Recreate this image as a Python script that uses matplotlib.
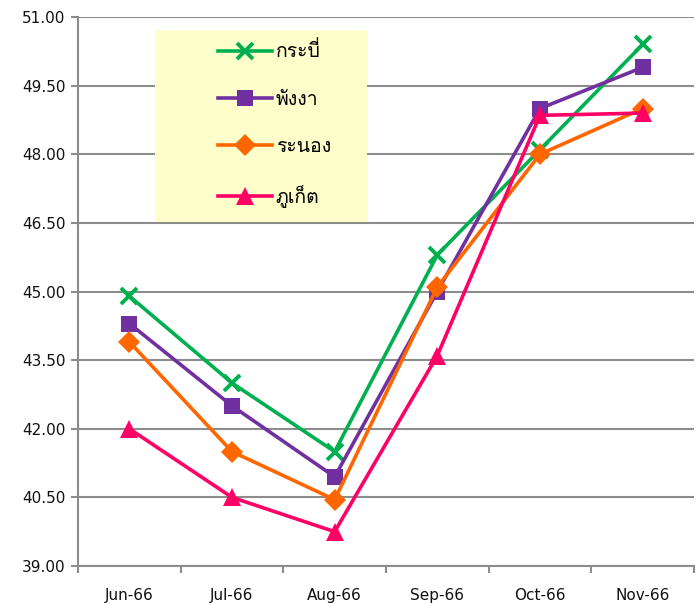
import numpy as np
import matplotlib
matplotlib.use("Agg")
import matplotlib.pyplot as plt
from matplotlib import font_manager
from matplotlib.ft2font import FT2Font
from matplotlib.patches import Rectangle

months = ["Jun-66", "Jul-66", "Aug-66", "Sep-66", "Oct-66", "Nov-66"]
krabi = [44.9, 43.0, 41.5, 45.8, 48.1, 50.4]
phangnga = [44.3, 42.5, 40.95, 45.0, 49.0, 49.9]
ranong = [43.9, 41.5, 40.45, 45.1, 48.0, 49.0]
phuket = [42.0, 40.5, 39.75, 43.6, 48.85, 48.9]
names = ["กระบี่", "พังงา", "ระนอง", "ภูเก็ต"]
y_ticks = [39.0, 40.5, 42.0, 43.5, 45.0, 46.5, 48.0, 49.5, 51.0]

# find a font with Thai glyphs
thai_family = None
preferred = []
for f in font_manager.fontManager.ttflist:
    try:
        ft = FT2Font(f.fname)
        if 0x0E01 in ft.get_charmap():
            preferred.append(f.name)
    except Exception:
        pass
for cand in preferred:
    if "Thai" in cand or "Loma" in cand or "Tahoma" in cand:
        thai_family = cand
        break
if thai_family is None and preferred:
    thai_family = preferred[0]
thai_fams = ([thai_family] if thai_family else []) + ["DejaVu Sans"]

plt.rcParams['font.family'] = ['DejaVu Sans']

fig = plt.figure(figsize=(6.97, 6.03), dpi=100)
ax = fig.add_axes([78/697, 1-566/603, 616/697, 549/603])

x = np.arange(len(months))
series = [
    (krabi, "#00B050", "x", 12),
    (phangnga, "#7030A0", "s", 12),
    (ranong, "#FF6600", "D", 11),
    (phuket, "#FF0066", "^", 13),
]
for (vals, col, mk, ms), nm in zip(series, names):
    kw = dict(color=col, lw=2.6, marker=mk, markersize=ms, label=nm)
    if mk == "x":
        kw.update(markeredgewidth=2.8, markeredgecolor=col)
    else:
        kw.update(markeredgewidth=0, markerfacecolor=col)
    ax.plot(x, vals, **kw, zorder=3)

ax.set_xlim(-0.5, 5.5)
ax.set_ylim(39, 51)
ax.set_yticks(y_ticks)
ax.set_yticklabels([f"{v:.2f}" for v in y_ticks], fontsize=11, color="#111111")
ax.yaxis.grid(True, color="#8c8c8c", lw=1.5, zorder=0)
ax.set_axisbelow(True)

ax.set_xticks(x)
ax.set_xticklabels(months, fontsize=11, color="#111111")
ax.set_xticks(np.arange(-0.5, 6.0, 1.0), minor=True)
ax.tick_params(axis="x", which="major", length=0, pad=16)
ax.tick_params(axis="x", which="minor", length=5, width=1.5, color="#8c8c8c")
ax.tick_params(axis="y", length=5, width=1.5, color="#8c8c8c", pad=4)

for s in ["top", "right"]:
    ax.spines[s].set_visible(False)
for s in ["left", "bottom"]:
    ax.spines[s].set_color("#8c8c8c")
    ax.spines[s].set_linewidth(1.5)

# legend background
bx0 = (155-78)/616
by1 = (566-30)/549
bw = 212/616
bh = 192/549
ax.add_patch(Rectangle((bx0, by1-bh), bw, bh, transform=ax.transAxes,
                       facecolor="#FFFFCC", edgecolor="none", zorder=4))
leg = ax.legend(loc="upper left", bbox_to_anchor=((200-78)/616, (566-24)/549),
                frameon=False, prop={"family": thai_fams, "size": 14},
                handlelength=2.8, handletextpad=0.2, labelspacing=1.5,
                borderpad=0.4)
leg.set_zorder(5)

fig.savefig("out.png", dpi=100)
